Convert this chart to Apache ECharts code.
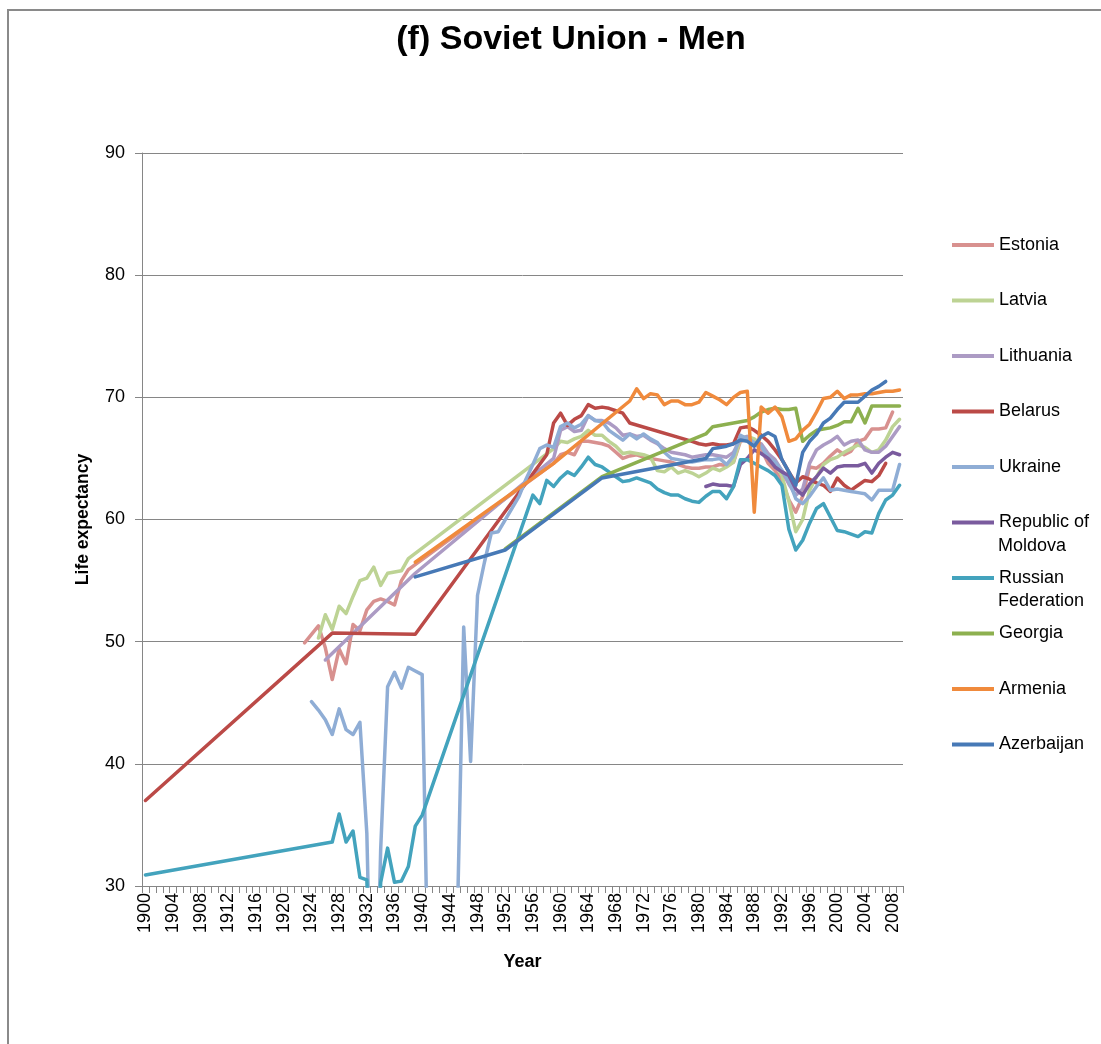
<!DOCTYPE html>
<html>
<head>
<meta charset="utf-8">
<script src="https://cdn.jsdelivr.net/npm/echarts@6/dist/echarts.min.js"></script>
<style>
  html, body { margin: 0; padding: 0; background: #fff; }
  #frame { position: absolute; left: 7px; top: 9px; width: 1200px; height: 1100px;
           border-left: 2px solid #8a8a8a; border-top: 2px solid #8a8a8a; }
  #chart { position: absolute; left: 0; top: 0; width: 1101px; height: 1044px; }
</style>
</head>
<body>
<div id="frame"></div>
<div id="chart"></div>
<script>
// ---- Data ----
const firstYear = 1900;
const lastYear = 2009;
const yTicks = [30, 40, 50, 60, 70, 80, 90];

const countryNames = ['Estonia', 'Latvia', 'Lithuania', 'Belarus', 'Ukraine',
  'Republic of Moldova', 'Russian Federation', 'Georgia', 'Armenia', 'Azerbaijan'];

const estonia = [[1923,49.9],[1924,50.6],[1925,51.3],[1926,49.5],[1927,46.9],[1928,49.4],[1929,48.2],[1930,51.4],[1931,50.9],[1932,52.6],[1933,53.3],[1934,53.5],[1935,53.3],[1936,53.0],[1937,55.0],[1938,55.9],
  [1959,64.6],[1960,65.3],[1961,65.5],[1962,65.3],[1963,66.4],[1964,66.4],[1965,66.3],[1966,66.2],[1967,66.0],[1968,65.5],[1969,65.0],[1970,65.2],[1971,65.3],[1972,65.1],[1973,65.0],[1974,64.9],[1975,64.8],[1976,64.7],[1977,64.5],[1978,64.3],[1979,64.2],[1980,64.2],[1981,64.3],[1982,64.3],[1983,64.5],[1984,64.4],[1985,64.7],[1986,66.4],[1987,66.6],[1988,66.2],[1989,65.8],[1990,64.6],[1991,64.0],[1992,63.2],[1993,61.6],[1994,60.6],[1995,61.9],[1996,64.3],[1997,64.2],[1998,64.6],[1999,65.2],[2000,65.7],[2001,65.3],[2002,65.6],[2003,66.4],[2004,66.6],[2005,67.4],[2006,67.4],[2007,67.5],[2008,68.8]];

const latvia = [[1925,50.3],[1926,52.2],[1927,51.0],[1928,52.9],[1929,52.3],[1930,53.7],[1931,55.0],[1932,55.2],[1933,56.1],[1934,54.6],[1935,55.6],[1936,55.7],[1937,55.8],[1938,56.8],
  [1959,65.8],[1960,66.4],[1961,66.3],[1962,66.6],[1963,66.8],[1964,67.3],[1965,66.9],[1966,66.9],[1967,66.4],[1968,66.0],[1969,65.4],[1970,65.5],[1971,65.4],[1972,65.3],[1973,65.1],[1974,64.0],[1975,63.9],[1976,64.3],[1977,63.8],[1978,64.0],[1979,63.8],[1980,63.5],[1981,63.8],[1982,64.2],[1983,64.0],[1984,64.3],[1985,64.7],[1986,66.6],[1987,66.8],[1988,66.6],[1989,66.1],[1990,65.3],[1991,64.7],[1992,63.6],[1993,61.5],[1994,59.0],[1995,60.0],[1996,62.4],[1997,63.5],[1998,64.5],[1999,64.9],[2000,65.1],[2001,65.5],[2002,65.8],[2003,66.1],[2004,65.9],[2005,65.5],[2006,65.7],[2007,66.5],[2008,67.6],[2009,68.2]];

const lithuania = [[1926,48.5],[1939,55.6],
  [1959,65.0],[1960,67.3],[1961,67.6],[1962,67.2],[1963,67.3],[1964,68.5],[1965,68.1],[1966,68.1],[1967,67.9],[1968,67.5],[1969,66.9],[1970,67.0],[1971,66.8],[1972,66.9],[1973,66.5],[1974,66.2],[1975,65.8],[1976,65.5],[1977,65.4],[1978,65.3],[1979,65.1],[1980,65.2],[1981,65.3],[1982,65.3],[1983,65.2],[1984,65.1],[1985,65.5],[1986,66.6],[1987,66.8],[1988,66.2],[1989,66.2],[1990,65.4],[1991,64.9],[1992,64.0],[1993,62.9],[1994,62.0],[1995,62.5],[1996,64.6],[1997,65.7],[1998,66.1],[1999,66.4],[2000,66.8],[2001,66.1],[2002,66.4],[2003,66.5],[2004,65.7],[2005,65.5],[2006,65.5],[2007,66.0],[2008,66.8],[2009,67.6]];

const belarus = [[1900,37.0],[1927,50.7],[1939,50.6],
  [1958,65.3],[1959,67.9],[1960,68.7],[1961,67.7],[1962,68.2],[1963,68.5],[1964,69.4],[1965,69.1],[1966,69.2],[1967,69.1],[1968,68.9],[1969,68.7],[1970,67.9],[1979,66.4],[1980,66.2],[1981,66.1],[1982,66.2],[1983,66.1],[1984,66.1],[1985,66.2],[1986,67.5],[1987,67.6],[1988,67.3],[1989,66.9],[1990,66.4],[1991,65.7],[1992,64.9],[1993,63.9],[1994,63.0],[1995,63.5],[1996,63.3],[1997,63.0],[1998,62.8],[1999,62.3],[2000,63.4],[2001,62.8],[2002,62.4],[2003,62.8],[2004,63.2],[2005,63.1],[2006,63.6],[2007,64.6]];

const ukraine = [[1924,45.1],[1925,44.4],[1926,43.6],[1927,42.4],[1928,44.5],[1929,42.8],[1930,42.4],[1931,43.4],[1932,34.3],[1933,10.0],[1934,33.0],[1935,46.3],[1936,47.5],[1937,46.2],[1938,47.9],[1939,47.6],[1940,47.3],[1941,17.5],[1942,15.0],[1943,15.0],[1944,15.0],[1945,25.0],[1946,51.2],[1947,40.2],[1948,53.8],[1949,56.5],[1950,58.9],[1951,59.0],[1954,61.9],[1955,63.3],[1956,64.5],[1957,65.8],[1958,66.1],[1959,65.9],[1960,67.6],[1961,67.9],[1962,67.5],[1963,67.8],[1964,68.5],[1965,68.1],[1966,68.0],[1967,67.3],[1968,66.9],[1969,66.5],[1970,67.0],[1971,66.6],[1972,67.0],[1973,66.6],[1974,66.3],[1975,65.5],[1976,65.0],[1977,64.9],[1978,64.8],[1979,64.7],[1980,64.8],[1981,64.9],[1982,64.9],[1983,65.0],[1984,64.5],[1985,65.2],[1986,66.9],[1987,66.6],[1988,66.3],[1989,66.0],[1990,65.1],[1991,64.7],[1992,64.0],[1993,63.2],[1994,61.7],[1995,61.3],[1996,61.9],[1997,62.7],[1998,63.4],[1999,62.4],[2000,62.5],[2001,62.4],[2002,62.3],[2003,62.2],[2004,62.1],[2005,61.6],[2006,62.4],[2007,62.4],[2008,62.4],[2009,64.5]];

const moldova = [[1981,62.7],[1982,62.9],[1983,62.8],[1984,62.8],[1985,62.7],[1986,64.5],[1987,65.0],[1988,65.7],[1989,65.4],[1990,65.0],[1991,64.3],[1992,63.9],[1993,63.6],[1994,62.5],[1995,62.0],[1996,62.9],[1997,63.5],[1998,64.2],[1999,63.8],[2000,64.3],[2001,64.4],[2002,64.4],[2003,64.4],[2004,64.6],[2005,63.8],[2006,64.6],[2007,65.1],[2008,65.5],[2009,65.3]];

const russia = [[1900,30.9],[1927,33.6],[1928,35.9],[1929,33.6],[1930,34.5],[1931,30.7],[1932,30.5],[1933,15.0],[1934,30.3],[1935,33.1],[1936,30.3],[1937,30.4],[1938,31.6],[1939,34.9],[1940,35.8],
  [1956,62.0],[1957,61.3],[1958,63.2],[1959,62.7],[1960,63.4],[1961,63.9],[1962,63.6],[1963,64.3],[1964,65.1],[1965,64.5],[1966,64.3],[1967,63.9],[1968,63.5],[1969,63.1],[1970,63.2],[1971,63.4],[1972,63.2],[1973,63.0],[1974,62.5],[1975,62.2],[1976,62.0],[1977,62.0],[1978,61.7],[1979,61.5],[1980,61.4],[1981,61.9],[1982,62.3],[1983,62.3],[1984,61.7],[1985,62.7],[1986,64.9],[1987,64.9],[1988,64.6],[1989,64.3],[1990,64.0],[1991,63.6],[1992,62.8],[1993,59.2],[1994,57.5],[1995,58.3],[1996,59.7],[1997,60.9],[1998,61.3],[1999,60.2],[2000,59.1],[2001,59.0],[2002,58.8],[2003,58.6],[2004,59.0],[2005,58.9],[2006,60.5],[2007,61.6],[2008,62.0],[2009,62.8]];

const georgia = [[1952,57.6],[1966,63.5],[1981,67.0],[1982,67.6],[1983,67.7],[1984,67.8],[1985,67.9],[1986,68.0],[1987,68.1],[1988,68.4],[1989,68.8],[1990,69.0],[1991,69.1],[1992,69.0],[1993,69.0],[1994,69.1],[1995,66.4],[1996,66.9],[1997,67.3],[1998,67.4],[1999,67.5],[2000,67.7],[2001,68.0],[2002,68.0],[2003,69.1],[2004,67.9],[2005,69.3],[2006,69.3],[2007,69.3],[2008,69.3],[2009,69.3]];

const armenia = [[1939,56.5],[1959,64.6],[1970,69.7],[1971,70.7],[1972,69.9],[1973,70.3],[1974,70.2],[1975,69.4],[1976,69.7],[1977,69.7],[1978,69.4],[1979,69.4],[1980,69.6],[1981,70.4],[1982,70.1],[1983,69.8],[1984,69.4],[1985,70.0],[1986,70.4],[1987,70.5],[1988,60.6],[1989,69.2],[1990,68.7],[1991,69.2],[1992,68.4],[1993,66.4],[1994,66.6],[1995,67.3],[1996,67.8],[1997,68.8],[1998,69.9],[1999,70.0],[2000,70.5],[2001,69.9],[2002,70.2],[2003,70.2],[2004,70.3],[2005,70.3],[2006,70.4],[2007,70.5],[2008,70.5],[2009,70.6]];

const azerbaijan = [[1939,55.3],[1952,57.5],[1966,63.4],[1981,65.0],[1982,65.8],[1983,65.9],[1984,66.0],[1985,66.2],[1986,66.5],[1987,66.4],[1988,66.0],[1989,66.8],[1990,67.1],[1991,66.8],[1992,64.9],[1993,63.9],[1994,62.8],[1995,65.5],[1996,66.4],[1997,67.0],[1998,67.9],[1999,68.3],[2000,69.0],[2001,69.6],[2002,69.6],[2003,69.6],[2004,70.1],[2005,70.6],[2006,70.9],[2007,71.3]];

const countryData = [estonia, latvia, lithuania, belarus, ukraine, moldova, russia, georgia, armenia, azerbaijan];
const countryColors = ['#D8918F', '#BDD394', '#AC9BC4', '#BB4A47', '#8FADD5',
  '#7A5B9E', '#43A3BD', '#8DB04F', '#F08A3C', '#4779B6'];

// ---- Build category axis and aligned series ----
const years = [];
for (let y = firstYear; y <= lastYear; y++) years.push(String(y));

function align(pairs) {
  const arr = years.map(() => null);
  pairs.forEach(p => { arr[p[0] - firstYear] = p[1]; });
  return arr;
}

const FONT = 'Liberation Sans';
const chart = echarts.init(document.getElementById('chart'), null, { renderer: 'canvas' });

const series = countryNames.map((name, i) => ({
  name: name,
  type: 'line',
  data: align(countryData[i]),
  connectNulls: true,
  symbol: 'none',
  showSymbol: false,
  clip: true,
  lineStyle: { width: 3.5, color: countryColors[i], cap: 'round', join: 'round' },
  itemStyle: { color: countryColors[i] },
  emphasis: { disabled: true },
  animation: false
}));

const legendFirstLine = {
  'Republic of Moldova': 'Republic of',
  'Russian Federation': 'Russian'
};

chart.setOption({
  animation: false,
  backgroundColor: 'transparent',
  title: {
    text: '(f) Soviet Union - Men',
    left: 566,
    textAlign: 'center',
    top: 18,
    textStyle: { fontFamily: FONT, fontSize: 34, fontWeight: 'bold', color: '#000' }
  },
  grid: { left: 142, right: 198, top: 153, bottom: 158, containLabel: false },
  legend: {
    orient: 'vertical',
    left: 952,
    top: 235,
    padding: 0,
    itemWidth: 42,
    itemHeight: 4,
    itemGap: 35.5,
    icon: 'rect',
    data: countryNames,
    formatter: n => legendFirstLine[n] || n,
    textStyle: { fontFamily: FONT, fontSize: 18, lineHeight: 20, color: '#000' },
    selectedMode: false
  },
  xAxis: {
    type: 'category',
    data: years,
    boundaryGap: true,
    name: 'Year',
    nameLocation: 'middle',
    nameGap: 67,
    nameTextStyle: { fontFamily: FONT, fontSize: 18, fontWeight: 'bold', color: '#000' },
    axisLine: { show: true, lineStyle: { color: '#868686', width: 1 } },
    axisTick: { show: true, interval: 0, length: 7, lineStyle: { color: '#868686' } },
    axisLabel: { interval: 3, rotate: 90, fontFamily: FONT, fontSize: 18, color: '#000', margin: 7 },
    splitLine: { show: false }
  },
  yAxis: {
    type: 'value',
    min: 30,
    max: 90,
    interval: 10,
    name: 'Life expectancy',
    nameLocation: 'middle',
    nameGap: 50,
    nameRotate: 90,
    nameTextStyle: { fontFamily: FONT, fontSize: 17.5, fontWeight: 'bold', color: '#000' },
    axisLine: { show: true, lineStyle: { color: '#868686', width: 1 } },
    axisTick: { show: true, length: 7, lineStyle: { color: '#868686' } },
    axisLabel: { fontFamily: FONT, fontSize: 18, color: '#000', margin: 17,
      formatter: v => (yTicks.indexOf(v) >= 0 ? String(v) : '') },
    splitLine: { show: true, lineStyle: { color: '#868686', width: 1 } }
  },
  graphic: [
    { type: 'text', left: 998, top: 537, style: { text: 'Moldova', font: '18px "Liberation Sans"', fill: '#000' } },
    { type: 'text', left: 998, top: 592, style: { text: 'Federation', font: '18px "Liberation Sans"', fill: '#000' } }
  ],
  series: series
});
</script>
</body>
</html>
